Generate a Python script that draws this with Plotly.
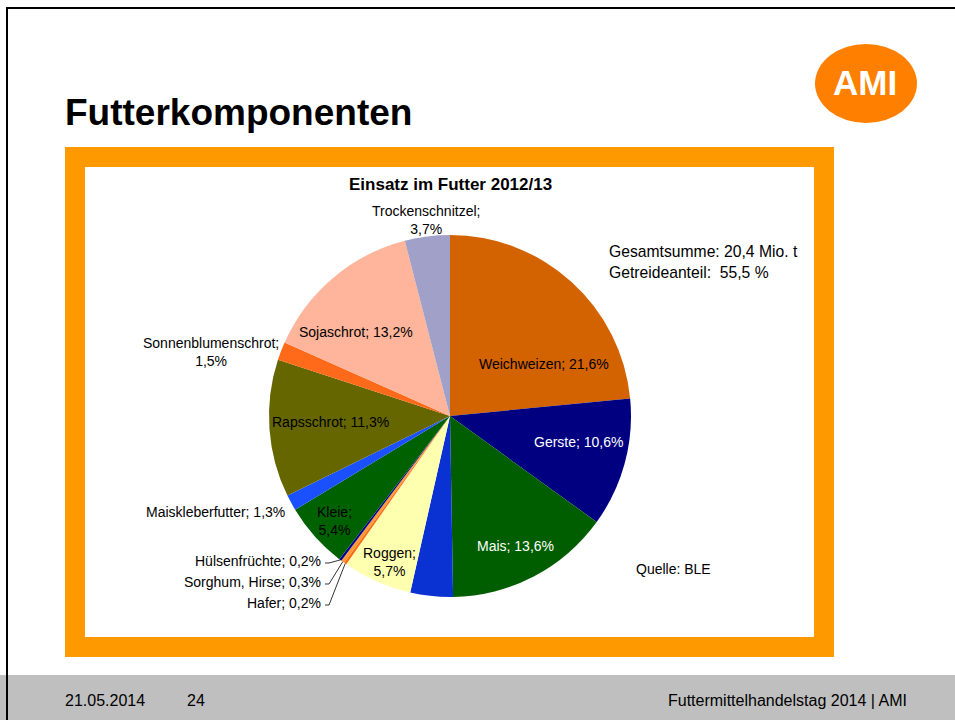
import math
import plotly.graph_objects as go

# ---------------- data ----------------
categories = ["Weichweizen", "Gerste", "Mais", "Triticale", "Roggen", "Hafer",
              "Sorghum, Hirse", "Hülsenfrüchte", "Kleie", "Maiskleberfutter",
              "Rapsschrot", "Sonnenblumenschrot", "Sojaschrot", "Trockenschnitzel"]
shares = [21.6, 10.6, 13.6, 3.5, 5.7, 0.2, 0.3, 0.2, 5.4, 1.3, 11.3, 1.5, 13.2, 3.7]
slice_colors = ["#D36200", "#000080", "#005E00", "#0A32D2", "#FFFFB0", "#FF6A13",
                "#FF9933", "#000099", "#006100", "#1A50FF", "#666600", "#FF6A1A",
                "#FFB59B", "#A0A0C8"]
chart_title = "Einsatz im Futter 2012/13"
slide_title = "Futterkomponenten"
info_lines = ["Gesamtsumme: 20,4 Mio. t", "Getreideanteil:  55,5 %"]
source_text = "Quelle: BLE"
footer_date = "21.05.2014"
footer_page = "24"
footer_event = "Futtermittelhandelstag 2014 | AMI"

W, H = 955, 720
FONT = "Liberation Sans, Arial, sans-serif"

def px(x):
    return x / W

def py(y):
    return 1 - y / H

# pie geometry (pixels)
CX, CY, R = 450, 416, 181

def fmt(v):
    return f"{v:.1f}".replace(".", ",") + "%"

# label placement: (x, y, xanchor, colour, line-break)
label_place = {
    "Weichweizen": (544, 364, "center", "black", False),
    "Gerste": (579, 442, "center", "white", False),
    "Mais": (515, 546, "center", "white", False),
    "Roggen": (389, 562, "center", "black", True),
    "Hafer": (323, 603, "right", "black", False),
    "Sorghum, Hirse": (323, 582, "right", "black", False),
    "Hülsenfrüchte": (323, 561, "right", "black", False),
    "Kleie": (334, 521, "center", "black", True),
    "Maiskleberfutter": (287, 512, "right", "black", False),
    "Rapsschrot": (330, 422, "center", "black", False),
    "Sonnenblumenschrot": (211, 352, "center", "black", True),
    "Sojaschrot": (356, 332, "center", "black", False),
    "Trockenschnitzel": (426, 220, "center", "black", True),
}
leader = {"Hafer", "Sorghum, Hirse", "Hülsenfrüchte"}

fig = go.Figure()
fig.add_trace(go.Pie(
    labels=categories, values=shares, sort=False, direction="clockwise",
    rotation=0, textinfo="none", hoverinfo="label+value",
    marker=dict(colors=slice_colors, line=dict(width=0)),
    domain=dict(x=[px(CX - R), px(CX + R)], y=[py(CY + R), py(CY - R)]),
    showlegend=False,
))

annotations = []
shapes = []

total = sum(shares)
cum = 0.0
for name, v in zip(categories, shares):
    mid = (cum + v / 2) / total * 2 * math.pi
    cum += v
    if name not in label_place:
        continue
    x, y, anchor, col, br = label_place[name]
    txt = f"{name};" + ("<br>" if br else " ") + fmt(v)
    annotations.append(dict(x=px(x), y=py(y), xref="paper", yref="paper",
                            text=txt, showarrow=False, xanchor=anchor,
                            yanchor="middle", align="center",
                            font=dict(family=FONT, size=14, color=col)))
    if name in leader:
        ex = CX + R * math.sin(mid)
        ey = CY - R * math.cos(mid)
        shapes.append(dict(type="path", xref="paper", yref="paper",
                           path=f"M {px(x + 2)} {py(y + 2)} L {px(x + 6)} {py(y + 2)} L {px(ex)} {py(ey)}",
                           line=dict(color="black", width=0.8)))

# slide decoration
deco = [
    dict(type="rect", xref="paper", yref="paper", x0=px(-5), x1=px(W + 5),
         y0=py(675), y1=py(H + 5), fillcolor="#BFBFBF", line=dict(width=0), layer="below"),
    dict(type="rect", xref="paper", yref="paper", x0=px(7), x1=px(W + 20),
         y0=py(8), y1=py(H + 20), line=dict(color="black", width=2), layer="below"),
    dict(type="rect", xref="paper", yref="paper", x0=px(75), x1=px(824),
         y0=py(157), y1=py(647), line=dict(color="#FF9900", width=20), layer="below"),
    dict(type="circle", xref="paper", yref="paper", x0=px(815), x1=px(917),
         y0=py(44), y1=py(123), fillcolor="#FF8000", line=dict(width=0), layer="below"),
]
shapes = deco + shapes

annotations += [
    dict(x=px(63), y=py(112), text=f"<b>{slide_title}</b>", xanchor="left",
         font=dict(family=FONT, size=37, color="black")),
    dict(x=px(865), y=py(82), text="<b>AMI</b>", xanchor="center",
         font=dict(family=FONT, size=35, color="white")),
    dict(x=px(450), y=py(185), text=f"<b>{chart_title}</b>", xanchor="center",
         font=dict(family=FONT, size=17, color="black")),
    dict(x=px(607), y=py(252), text=info_lines[0], xanchor="left",
         font=dict(family=FONT, size=15.7, color="black")),
    dict(x=px(607), y=py(272), text=info_lines[1], xanchor="left",
         font=dict(family=FONT, size=15.7, color="black")),
    dict(x=px(634), y=py(569), text=source_text, xanchor="left",
         font=dict(family=FONT, size=14, color="black")),
    dict(x=px(63), y=py(700), text=footer_date, xanchor="left",
         font=dict(family=FONT, size=16, color="black")),
    dict(x=px(185), y=py(700), text=footer_page, xanchor="left",
         font=dict(family=FONT, size=16, color="black")),
    dict(x=px(909), y=py(700), text=footer_event, xanchor="right",
         font=dict(family=FONT, size=16, color="black")),
]
for a in annotations:
    a.setdefault("xref", "paper")
    a.setdefault("yref", "paper")
    a.setdefault("showarrow", False)
    a.setdefault("yanchor", "middle")

fig.update_layout(
    width=W, height=H, margin=dict(l=0, r=0, t=0, b=0),
    paper_bgcolor="white", plot_bgcolor="white",
    shapes=shapes, annotations=annotations, showlegend=False,
)

fig.write_html("out.html", config={"displayModeBar": False},
               post_script="document.body.style.margin='0';document.body.style.overflow='hidden';")
